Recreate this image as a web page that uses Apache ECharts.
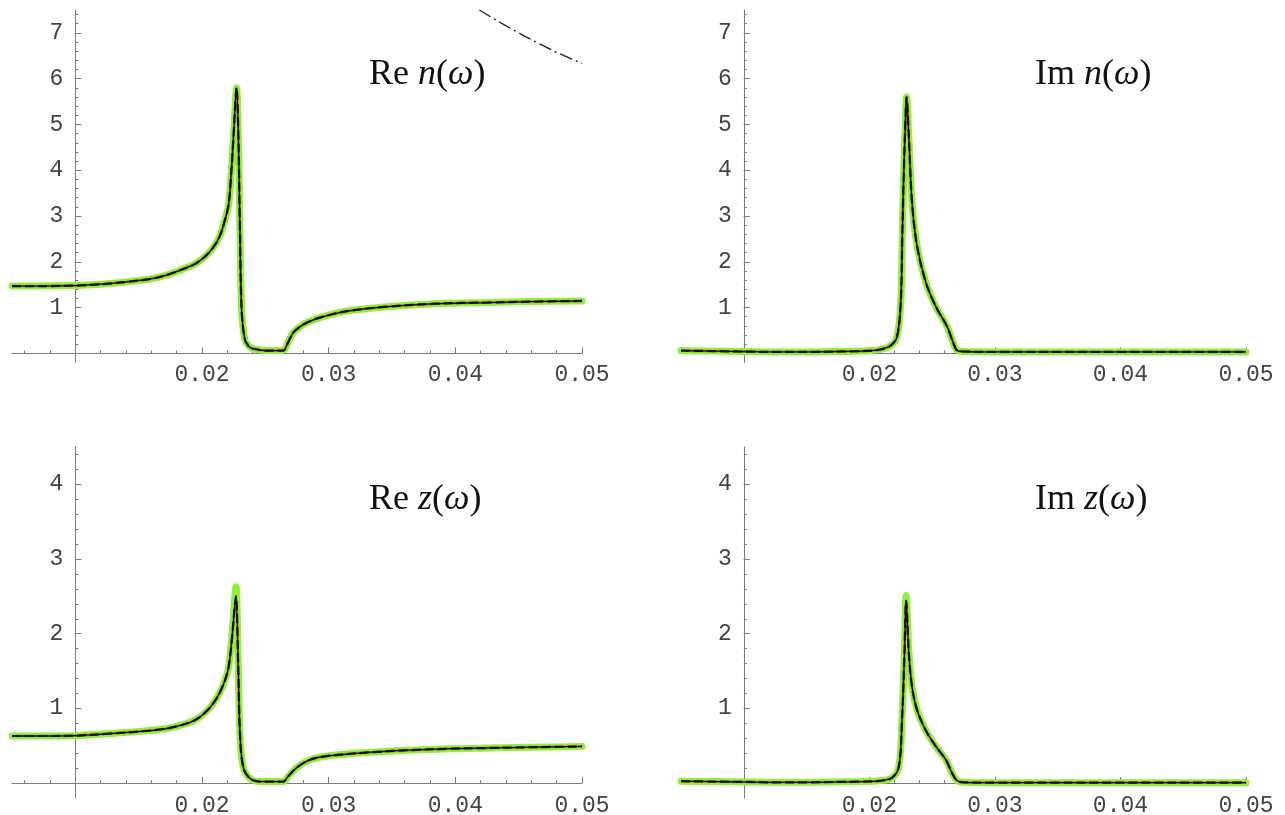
<!DOCTYPE html>
<html><head><meta charset="utf-8">
<script src="https://cdn.jsdelivr.net/npm/echarts@6/dist/echarts.min.js"></script>
<style>html,body{margin:0;padding:0;background:#fff}#c{width:1285px;height:815px}</style>
</head><body><div id="c"></div>
<script>
// ---- axis settings ----
const xMin = 0.005, xMax = 0.05, yCross = 0.01, yMin = -0.2;
const xTickLabels = [0.02, 0.03, 0.04, 0.05];
const yLabelsTop = [1, 2, 3, 4, 5, 6, 7];
const yLabelsBottom = [1, 2, 3, 4];
const yMaxTop = 7.5, yMaxBottom = 4.5;

// ---- data ----
const reN = [[0.005,1.47],[0.0075,1.47],[0.01,1.48],[0.012,1.51],[0.014,1.56],[0.016,1.63],[0.0172,1.71],[0.0185,1.84],[0.0195,1.96],[0.0203,2.13],[0.0209,2.32],[0.0214,2.56],[0.0218,2.9],[0.0221,3.25],[0.0223,3.9],[0.02252,4.9],[0.02266,5.6],[0.02273,5.8],[0.02286,4.9],[0.02299,2.8],[0.02313,0.95],[0.02339,0.3],[0.0237,0.15],[0.02405,0.1],[0.0251,0.06],[0.0264,0.06],[0.02655,0.09],[0.02681,0.25],[0.0272,0.45],[0.0275,0.53],[0.028,0.63],[0.0286,0.71],[0.0293,0.78],[0.0305,0.87],[0.0319,0.94],[0.0346,1.02],[0.0385,1.085],[0.0425,1.11],[0.046,1.13],[0.05,1.145]];
const reNAsym = [[0.0419,7.5],[0.0437,7.2],[0.0456,6.91],[0.0478,6.6],[0.05,6.33]];
const imN = [[0.005,0.06],[0.0075,0.05],[0.01,0.04],[0.0125,0.03],[0.015,0.03],[0.0175,0.04],[0.0195,0.05],[0.0208,0.08],[0.0217,0.17],[0.0222,0.36],[0.0225,1.1],[0.02262,2.5],[0.02275,4.0],[0.02288,5.1],[0.02296,5.6],[0.02315,4.7],[0.0234,3.3],[0.0238,2.35],[0.0245,1.55],[0.0253,1.02],[0.0262,0.58],[0.0267,0.22],[0.027,0.06],[0.0275,0.04],[0.03,0.03],[0.035,0.03],[0.04,0.03],[0.045,0.03],[0.05,0.03]];
const reZ = [[0.005,0.63],[0.0075,0.63],[0.01,0.635],[0.0125,0.66],[0.015,0.69],[0.0172,0.73],[0.019,0.81],[0.0198,0.88],[0.0204,0.97],[0.0209,1.07],[0.0214,1.21],[0.0218,1.37],[0.0221,1.55],[0.0224,2.0],[0.02255,2.3],[0.02268,2.5],[0.02286,1.55],[0.023,0.66],[0.02326,0.21],[0.0238,0.06],[0.0246,0.02],[0.0264,0.02],[0.0268,0.09],[0.0275,0.21],[0.0285,0.31],[0.0298,0.36],[0.0331,0.41],[0.0363,0.44],[0.0395,0.46],[0.0427,0.47],[0.046,0.48],[0.05,0.49]];
const reZGreen = [[0.005,0.63],[0.0075,0.63],[0.01,0.635],[0.0125,0.66],[0.015,0.69],[0.0172,0.73],[0.019,0.81],[0.0198,0.88],[0.0204,0.97],[0.0209,1.07],[0.0214,1.21],[0.0218,1.37],[0.0221,1.55],[0.0224,2.05],[0.02255,2.4],[0.02268,2.63],[0.02286,1.6],[0.023,0.66],[0.02326,0.21],[0.0238,0.06],[0.0246,0.02],[0.0264,0.02],[0.0268,0.09],[0.0275,0.21],[0.0285,0.31],[0.0298,0.36],[0.0331,0.41],[0.0363,0.44],[0.0395,0.46],[0.0427,0.47],[0.046,0.48],[0.05,0.49]];
const imZ = [[0.005,0.025],[0.0075,0.02],[0.01,0.015],[0.0125,0.01],[0.015,0.01],[0.0175,0.015],[0.0195,0.02],[0.0208,0.03],[0.0218,0.07],[0.02235,0.22],[0.0226,0.84],[0.0228,1.73],[0.02293,2.44],[0.02315,1.73],[0.0234,1.29],[0.0238,0.98],[0.02448,0.71],[0.0253,0.49],[0.0261,0.31],[0.0266,0.13],[0.027,0.03],[0.0275,0.01],[0.03,0.005],[0.035,0.005],[0.04,0.005],[0.045,0.005],[0.05,0.005]];
const imZGreen = [[0.005,0.025],[0.0075,0.02],[0.01,0.015],[0.0125,0.01],[0.015,0.01],[0.0175,0.015],[0.0195,0.02],[0.0208,0.03],[0.0218,0.07],[0.02235,0.22],[0.0226,0.86],[0.0228,1.78],[0.02293,2.51],[0.02315,1.76],[0.0234,1.29],[0.0238,0.98],[0.02448,0.71],[0.0253,0.49],[0.0261,0.31],[0.0266,0.13],[0.027,0.03],[0.0275,0.01],[0.03,0.005],[0.035,0.005],[0.04,0.005],[0.045,0.005],[0.05,0.005]];

// minor tick positions
const xMinorTicks = []; for (let i = 3; i <= 25; i++) xMinorTicks.push(+(i * 0.002).toFixed(3));
function minorY(max){ const a=[]; for(let i=1;i*0.2<=max+1e-9;i++) a.push(+(i*0.2).toFixed(1)); return a; }

const axisColor = '#7a7a7a', labelColor = '#444', green = '#8cf03c', orange = '#d9822b';
const monoFont = '"Liberation Mono", "DejaVu Sans Mono", monospace';
const serifFont = '"Liberation Serif", "DejaVu Serif", serif';
const grids = [], xAxes = [], yAxes = [], series = [], titles = [];

function addPanel(r, yMax, yLabels, curves, tp, labelMargin){
  const g = grids.length;
  grids.push({left:r.l, top:r.t, width:r.w, height:r.h, containLabel:false, outerBoundsMode:'none'});
  const xi = xAxes.length;
  xAxes.push({type:'value', gridIndex:g, min:xMin, max:xMax, position:'bottom',
    axisLine:{onZero:true, lineStyle:{color:axisColor, width:1}},
    axisTick:{show:true, inside:true, length:6, customValues:xTickLabels, lineStyle:{color:axisColor}},
    axisLabel:{customValues:xTickLabels, formatter:v=>v.toFixed(2), fontFamily:monoFont, fontSize:23, color:labelColor, margin:labelMargin},
    splitLine:{show:false}});
  const yi = yAxes.length;
  yAxes.push({type:'value', gridIndex:g, min:yMin, max:yMax, show:false, splitLine:{show:false}});
  // minor x ticks: a grid whose bottom edge is at y = 0
  const zeroH = r.h * (yMax - 0) / (yMax - yMin);
  const mg = grids.length;
  grids.push({left:r.l, top:r.t, width:r.w, height:zeroH, containLabel:false, outerBoundsMode:'none'});
  xAxes.push({type:'value', gridIndex:mg, min:xMin, max:xMax, position:'bottom',
    axisLine:{show:false, onZero:false},
    axisTick:{show:true, inside:true, length:3, customValues:xMinorTicks, lineStyle:{color:axisColor}},
    axisLabel:{show:false}, splitLine:{show:false}});
  yAxes.push({type:'value', gridIndex:mg, min:0, max:1, show:false});
  // helper grid carrying the y axis at x = yCross
  const hx = r.l + r.w * (yCross - xMin) / (xMax - xMin);
  const hg = grids.length;
  grids.push({left:hx, top:r.t, width:1, height:r.h, containLabel:false, outerBoundsMode:'none'});
  xAxes.push({type:'value', gridIndex:hg, min:0, max:1, show:false});
  yAxes.push({type:'value', gridIndex:hg, min:yMin, max:yMax, position:'left',
    axisLine:{show:true, onZero:false, lineStyle:{color:axisColor, width:1}},
    axisTick:{show:true, inside:true, length:6, customValues:yLabels, lineStyle:{color:axisColor}},
    axisLabel:{customValues:yLabels, fontFamily:monoFont, fontSize:23, color:labelColor, margin:12},
    splitLine:{show:false}});
  yAxes.push({type:'value', gridIndex:hg, min:yMin, max:yMax, position:'left',
    axisLine:{show:false, onZero:false},
    axisTick:{show:true, inside:true, length:3, customValues:minorY(yMax), lineStyle:{color:axisColor}},
    axisLabel:{show:false}, splitLine:{show:false}});
  curves.forEach(c => series.push(Object.assign({type:'line', xAxisIndex:xi, yAxisIndex:yi,
    showSymbol:false, symbol:'none', smooth:0.35, silent:true, clip:true, animation:false}, c)));
  titles.push({text:'{r|' + tp.a + ' }{i|' + tp.v + '}{r|(}{i|ω}{r|)}', left:tp.left, top:tp.top,
    textStyle:{rich:{
      r:{fontFamily:serifFont, fontSize:36, fontWeight:'normal', color:'#111'},
      i:{fontFamily:serifFont, fontSize:36, fontWeight:'normal', fontStyle:'italic', color:'#111'}}}});
}

function curveSet(green_, line_){
  return [
    {data:green_, lineStyle:{color:green, width:7, join:'round', cap:'round'}, z:2},
    {data:line_, lineStyle:{color:orange, width:2.5}, z:3},
    {data:line_, lineStyle:{color:'#111', width:1.3}, z:4},
    {data:line_, lineStyle:{color:'#111', width:2.2, type:[9,4]}, z:5}
  ];
}

const H = 352.5;
addPanel({l:12, t:10, w:570, h:H}, yMaxTop, yLabelsTop,
  curveSet(reN, reN).concat([{data:reNAsym, smooth:0.2, lineStyle:{color:'#222', width:1.4, type:[13,4,2,4]}, z:5}]),
  {a:'Re', v:'n', left:364, top:52}, 1);
addPanel({l:681, t:10, w:565, h:H}, yMaxTop, yLabelsTop, curveSet(imN, imN), {a:'Im', v:'n', left:1030, top:52}, 1);
addPanel({l:12, t:447, w:570, h:351}, yMaxBottom, yLabelsBottom, curveSet(reZGreen, reZ), {a:'Re', v:'z', left:364, top:477}, -4);
addPanel({l:681, t:447, w:565, h:351}, yMaxBottom, yLabelsBottom, curveSet(imZGreen, imZ), {a:'Im', v:'z', left:1030, top:477}, -4);

const chart = echarts.init(document.getElementById('c'), null, {renderer:'canvas'});
chart.setOption({backgroundColor:'#fff', animation:false, title:titles, grid:grids, xAxis:xAxes, yAxis:yAxes, series:series});
</script></body></html>
